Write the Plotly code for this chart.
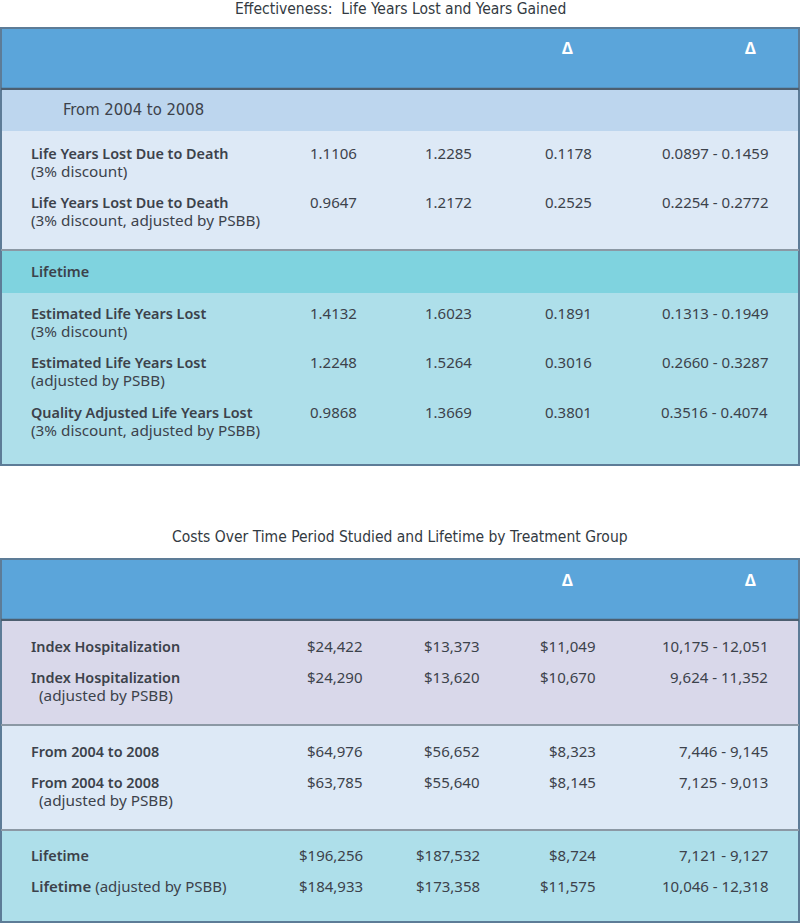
import plotly.graph_objects as go

# ---------------- data ----------------
title1 = "Effectiveness:  Life Years Lost and Years Gained"
title2 = "Costs Over Time Period Studied and Lifetime by Treatment Group"
header_cols = ["", "", "", "Δ", "Δ"]

t1_sections = ["From 2004 to 2008", "Lifetime"]
t1_labels = [
    ("Life Years Lost Due to Death", "(3% discount)"),
    ("Life Years Lost Due to Death", "(3% discount, adjusted by PSBB)"),
    ("Estimated Life Years Lost", "(3% discount)"),
    ("Estimated Life Years Lost", "(adjusted by PSBB)"),
    ("Quality Adjusted Life Years Lost", "(3% discount, adjusted by PSBB)"),
]
t1_col1 = ["1.1106", "0.9647", "1.4132", "1.2248", "0.9868"]
t1_col2 = ["1.2285", "1.2172", "1.6023", "1.5264", "1.3669"]
t1_col3 = ["0.1178", "0.2525", "0.1891", "0.3016", "0.3801"]
t1_col4 = ["0.0897 - 0.1459", "0.2254 - 0.2772", "0.1313 - 0.1949",
           "0.2660 - 0.3287", "0.3516 - 0.4074"]

t2_labels = [
    ("Index Hospitalization", ""),
    ("Index Hospitalization", "(adjusted by PSBB)"),
    ("From 2004 to 2008", ""),
    ("From 2004 to 2008", "(adjusted by PSBB)"),
    ("Lifetime", ""),
    ("Lifetime", "inline:(adjusted by PSBB)"),
]
t2_col1 = ["$24,422", "$24,290", "$64,976", "$63,785", "$196,256", "$184,933"]
t2_col2 = ["$13,373", "$13,620", "$56,652", "$55,640", "$187,532", "$173,358"]
t2_col3 = ["$11,049", "$10,670", "$8,323", "$8,145", "$8,724", "$11,575"]
t2_col4 = ["10,175 - 12,051", "9,624 - 11,352", "7,446 - 9,145",
           "7,125 - 9,013", "7,121 - 9,127", "10,046 - 12,318"]

# ---------------- style ----------------
W, H = 800, 924
TXT = "#3c424b"
FONT = "Noto Sans"
TFONT = "DejaVu Sans Condensed"
BORDER = "#5d7c97"
HEADER = "#5ba5da"
DARKDIV = "#4d5f70"
GRAYDIV = "#8b98a4"
FS = 14.5
NFS = 15

fig = go.Figure()
shapes = []
ann = []


def rect(x0, y0, x1, y1, color):
    shapes.append(dict(type="rect", xref="x", yref="y", x0=x0, x1=x1, y0=y0, y1=y1,
                       fillcolor=color, line=dict(width=0), layer="below"))


def hline(y, color, w):
    shapes.append(dict(type="line", xref="x", yref="y", x0=1, x1=W - 1, y0=y, y1=y,
                       line=dict(color=color, width=w), layer="below"))


def text(x, y, s, size=FS, weight=400, anchor="left", font=FONT, color=TXT, align="left"):
    ann.append(dict(x=x, y=y, xref="x", yref="y", text=s, showarrow=False,
                    xanchor=anchor, yanchor="middle", align=align,
                    font=dict(family=font, size=size, color=color, weight=weight)))


SEMI = '<span style="font-weight:600">%s</span>'
MAIN2 = '<span style="font-weight:600;font-size:14.4px">%s</span>'
SUB2 = '<span style="font-size:15.3px">%s</span>'

LX = 29
col_right = [359, 474, 594, 770]
col_right2 = [365, 482, 598, 770]
delta_x = [567, 750]

# ---------- table 1 ----------
text(W / 2, 9, title1, size=15.5, anchor="center", font=TFONT, color="#333a42")
top1, bot1 = 27, 466
rect(0, top1, W, bot1, BORDER)
rect(2, top1 + 2, W - 2, 88, HEADER)
for dx in delta_x:
    text(dx, 48, "<b>Δ</b>", size=16, anchor="center", color="white")
hline(89, DARKDIV, 2.5)
for (b0, b1, c) in [(90, 131, "#bdd6ee"), (251, 293, "#7fd3df")]:
    rect(2, b0, W - 2, b1, c)
for (b0, b1, c) in [(131, 249, "#dde9f6"), (293, bot1 - 2, "#aedfea")]:
    rect(2, b0, W - 2, b1, c)
hline(250, GRAYDIV, 2)
text(61, 109, t1_sections[0], size=16.5, font=TFONT)
text(LX, 271, SEMI % t1_sections[1])

row_y1 = [153, 202, 313, 362, 412]
cols1 = [t1_col1, t1_col2, t1_col3, t1_col4]
for i, (main, sub) in enumerate(t1_labels):
    y = row_y1[i]
    text(LX, y + 9, (MAIN2 % main) + "<br>" + (SUB2 % sub), size=14)
    for c, vals in enumerate(cols1):
        text(col_right[c], y, vals[i], size=NFS, anchor="right")

# ---------- table 2 ----------
text(W / 2, 537, title2, size=15.5, anchor="center", font=TFONT, color="#333a42")
top2, bot2 = 558, 923
rect(0, top2, W, bot2, BORDER)
rect(2, top2 + 2, W - 2, 619, HEADER)
for dx in delta_x:
    text(dx, 580, "<b>Δ</b>", size=16, anchor="center", color="white")
hline(620, DARKDIV, 2.5)
for (b0, b1, c) in [(621, 724, "#d9d8ea"), (726, 829, "#dde9f6"), (831, bot2 - 2, "#aedfea")]:
    rect(2, b0, W - 2, b1, c)
hline(725, GRAYDIV, 2)
hline(830, GRAYDIV, 2)

row_y2 = [646, 677, 751, 782, 855, 886]
cols2 = [t2_col1, t2_col2, t2_col3, t2_col4]
for i, (main, sub) in enumerate(t2_labels):
    y = row_y2[i]
    if sub.startswith("inline:"):
        text(LX, y, (SEMI % main) + " " + sub[len("inline:"):], size=15)
    elif sub:
        text(LX, y + 9, (MAIN2 % main) + "<br>" + (SUB2 % ("  " + sub)), size=14)
    else:
        text(LX, y, MAIN2 % main, size=14.4)
    for c, vals in enumerate(cols2):
        text(col_right2[c], y, vals[i], size=NFS, anchor="right")

# invisible trace to establish the axes
fig.add_trace(go.Scatter(x=[0, W], y=[0, H], mode="markers",
                         marker=dict(opacity=0), hoverinfo="skip", showlegend=False))

fig.update_layout(
    width=W, height=H, margin=dict(l=0, r=0, t=0, b=0),
    paper_bgcolor="white", plot_bgcolor="white",
    xaxis=dict(range=[0, W], visible=False, fixedrange=True),
    yaxis=dict(range=[H, 0], visible=False, fixedrange=True),
    shapes=shapes, annotations=ann, showlegend=False,
)
fig.write_html("out.html", config={"displayModeBar": False},
               post_script="document.body.style.margin='0';")
